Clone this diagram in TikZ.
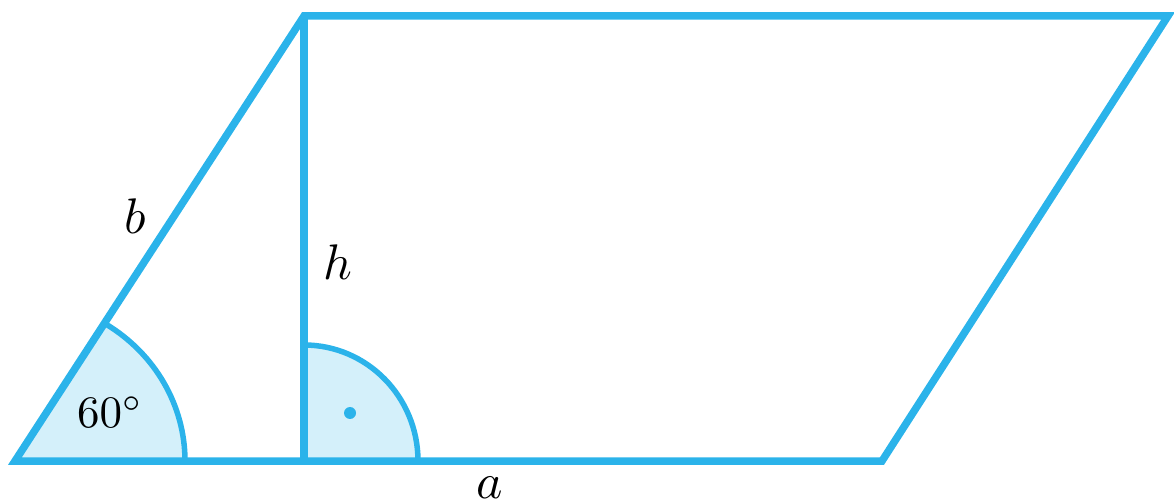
\documentclass[tikz,border=0pt]{standalone}
\usepackage{graphicx}
\definecolor{edge}{HTML}{2BB3EA}
\definecolor{fillc}{HTML}{D4F0FA}
\tikzset{
  side/.style={draw=edge, line width=7.5pt, line join=miter},
  arcline/.style={draw=edge, line width=5.5pt},
  lab/.style={inner sep=0pt},
}
\newcommand{\bigtxt}[1]{\scalebox{5}{#1}}
\begin{document}
\begin{tikzpicture}[x=1pt,y=1pt]
\useasboundingbox (0,0) rectangle (1174,503);
% vertices (y flipped: y = 503 - ypx)
\coordinate (A) at (15,42);
\coordinate (B) at (882,42);
\coordinate (C) at (1168,487);
\coordinate (D) at (304,487);
\coordinate (F) at (304,42);
% angle sector at A
\fill[fillc] (A) -- (185,42) arc[x radius=170, y radius=162, start angle=0, end angle=57.5] -- cycle;
\draw[arcline] (185,42) arc[x radius=170, y radius=162, start angle=0, end angle=57.5];
% right angle marker
\fill[fillc] (F) -- (418,42) arc[x radius=114, y radius=116, start angle=0, end angle=90] -- cycle;
\draw[arcline] (418,42) arc[x radius=114, y radius=116, start angle=0, end angle=90];
\node[circle, fill=edge, inner sep=0pt, minimum size=12pt] (dot) at (350,90) {};
% parallelogram
\draw[side] (A) -- (B) -- (C) -- (D) -- cycle;
\draw[side] (D) -- (F);
% labels
\node[lab] (la) at (490,15) {\bigtxt{$a$}};
\node[lab] (lb) at (135,287) {\bigtxt{$b$}};
\node[lab] (lh) at (338,241) {\bigtxt{$h$}};
\node[lab] (l60) at (110,91) {\scalebox{4.5}{$60^\circ$}};
\end{tikzpicture}
\end{document}
